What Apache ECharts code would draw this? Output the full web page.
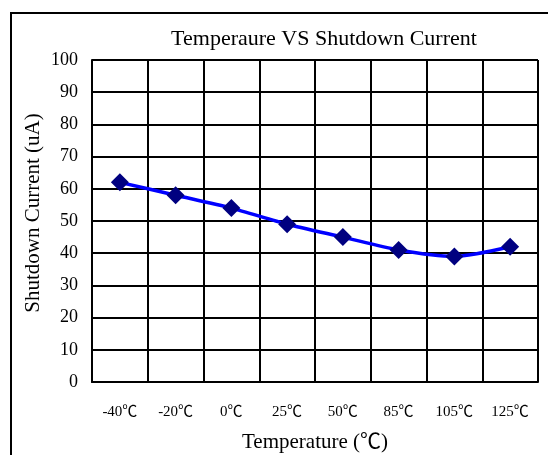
<!DOCTYPE html>
<html><head><meta charset="utf-8">
<script src="https://cdn.jsdelivr.net/npm/echarts@6/dist/echarts.min.js"></script>
<style>html,body{margin:0;padding:0;background:#fff}#c{width:548px;height:455px}</style>
</head><body><div id="c"></div>
<script>
const categories = ['-40℃','-20℃','0℃','25℃','50℃','85℃','105℃','125℃'];
const shutdownCurrent = [62, 58, 54, 49, 45, 41, 39, 42];
const titleText = 'Temperaure VS Shutdown Current';
const xName = 'Temperature (℃)';
const yName = 'Shutdown Current (uA)';
const FONT = "'Liberation Serif','Noto Sans CJK TC',serif";
const chart = echarts.init(document.getElementById('c'), null, {renderer:'canvas'});
chart.setOption({
  animation:false,
  backgroundColor:'#fff',
  title:{text:titleText,left:319,textAlign:'center',top:23,
    textStyle:{fontFamily:FONT,fontWeight:'normal',fontSize:22,color:'#000'}},
  graphic:[
    {type:'rect',shape:{x:11,y:13,width:600,height:500},
      style:{fill:'none',stroke:'#000',lineWidth:2},silent:true},
    {type:'text',x:33,y:213,rotation:Math.PI/2,
      style:{text:yName,fontFamily:FONT,fontSize:21,fill:'#000',
        textAlign:'center',textVerticalAlign:'middle'},silent:true}
  ],
  grid:{left:92,top:60,width:446,height:322,containLabel:false,outerBoundsMode:'none'},
  xAxis:{type:'category',data:categories,boundaryGap:true,
    name:xName,nameLocation:'middle',nameGap:50,
    nameTextStyle:{fontFamily:FONT,fontSize:21,color:'#000'},
    axisLine:{lineStyle:{color:'#000',width:2}},
    axisTick:{show:false},
    axisLabel:{fontFamily:FONT,fontSize:15,color:'#000',margin:23,interval:0},
    splitLine:{show:true,interval:0,lineStyle:{color:'#000',width:2}}},
  yAxis:{type:'value',min:0,max:100,interval:10,
    axisLine:{show:true,lineStyle:{color:'#000',width:2}},
    axisTick:{show:false},
    axisLabel:{fontFamily:FONT,fontSize:18,color:'#000',margin:14},
    splitLine:{show:true,lineStyle:{color:'#000',width:2}}},
  series:[{type:'line',data:shutdownCurrent,smooth:0.25,
    lineStyle:{color:'#0000ff',width:3.5},
    symbol:'diamond',symbolSize:18,
    itemStyle:{color:'#000080',borderWidth:0}}]
});
</script></body></html>
